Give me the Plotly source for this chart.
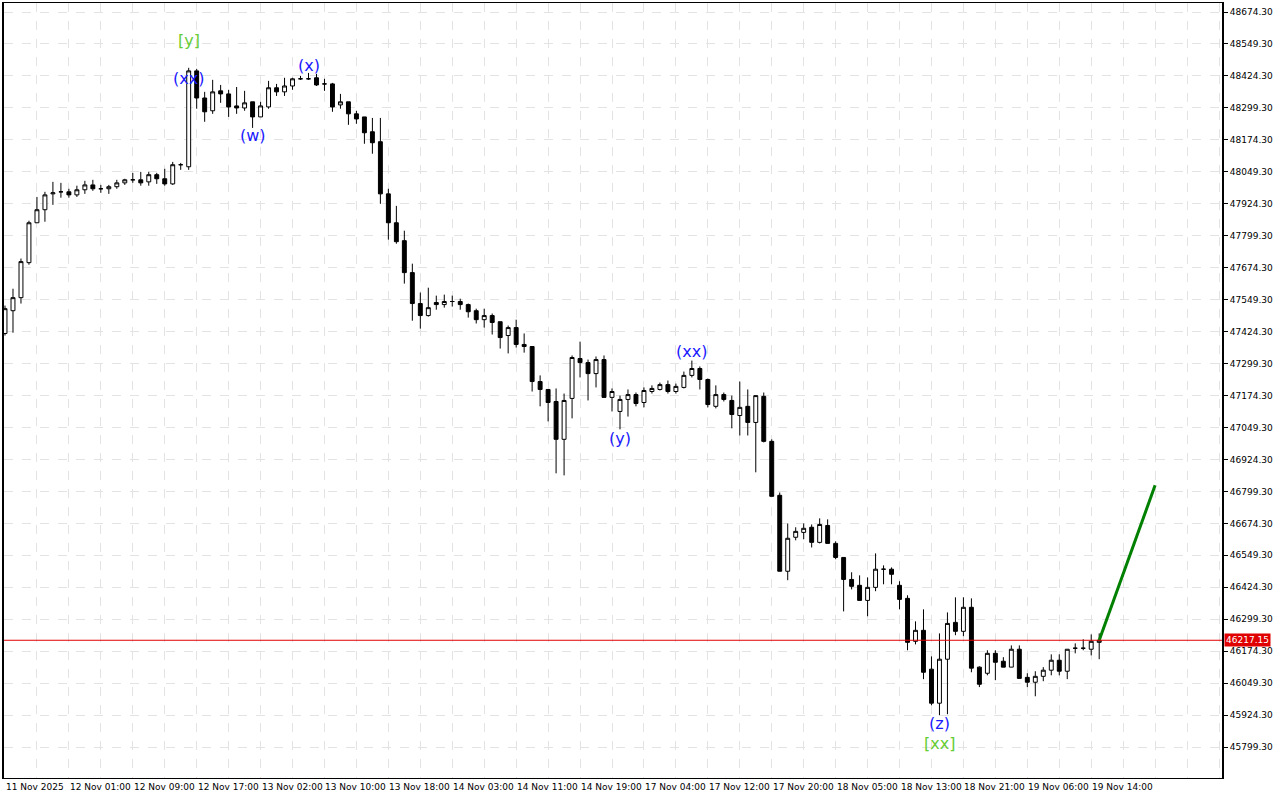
import plotly.graph_objects as go

opens = [47417,47506,47557,47694,47850,47901,47963,47971,47971,47959,47979,47998,47983,47983,47991,48006,48018,48018,48010,48038,
48022,48002,48077,48069,48444,48338,48288,48366,48354,48307,48299,48323,48264,48303,48378,48362,48385,48413,48413,48417,
48393,48393,48311,48323,48276,48264,48206,48167,47963,47850,47780,47655,47534,47487,47538,47530,47542,47542,47530,47506,
47471,47487,47463,47409,47440,47374,47366,47229,47198,47151,47003,47163,47319,47303,47260,47315,47167,47112,47159,47178,
47147,47190,47198,47217,47190,47206,47253,47280,47237,47132,47178,47155,47096,47132,47069,47171,46995,46784,46487,46620,
46639,46659,46600,46666,46596,46541,46455,46432,46373,46424,46495,46495,46432,46381,46213,46256,46104,45971,46143,46287,
46252,46346,46112,46088,46166,46135,46112,46182,46072,46053,46076,46100,46139,46096,46186,46186,46182,46209]
highs = [47526,47592,47710,47858,47951,47971,48010,48006,47983,47995,48014,48018,47998,47998,48018,48022,48045,48049,48049,48045,
48061,48088,48084,48456,48452,48362,48409,48389,48370,48381,48366,48323,48323,48405,48393,48417,48417,48424,48436,48432,
48413,48397,48354,48323,48288,48264,48260,48260,47983,47916,47819,47690,47577,47596,47565,47569,47565,47553,47534,47514,
47514,47495,47463,47448,47471,47417,47366,47253,47198,47202,47182,47331,47385,47315,47327,47331,47202,47174,47198,47186,
47206,47214,47225,47233,47221,47268,47311,47288,47241,47214,47186,47174,47229,47198,47174,47186,47003,46795,46674,46659,
46674,46670,46694,46690,46604,46541,46483,46471,46463,46557,46510,46502,46448,46393,46291,46338,46154,46244,46326,46385,
46385,46381,46115,46178,46178,46151,46197,46197,46088,46096,46112,46162,46162,46182,46205,46221,46240,46244]
lows = [47409,47420,47534,47686,47850,47854,47920,47948,47948,47951,47963,47975,47967,47963,47983,47998,48006,47995,47995,48002,
47995,47998,48057,48057,48296,48245,48276,48319,48264,48276,48288,48221,48264,48296,48346,48346,48370,48409,48409,48385,
48366,48284,48296,48233,48237,48159,48120,47924,47784,47768,47612,47467,47436,47483,47510,47518,47522,47510,47479,47456,
47440,47413,47358,47339,47362,47342,47190,47132,47073,46870,46862,47085,47245,47155,47206,47167,47112,47042,47092,47132,
47128,47182,47194,47182,47182,47202,47245,47198,47128,47124,47151,47046,47018,47018,46874,46991,46780,46487,46452,46608,
46612,46580,46596,46596,46534,46330,46416,46373,46311,46409,46436,46436,46338,46178,46201,46065,45963,45924,45928,46237,
46233,46092,46034,46080,46061,46112,46112,46068,46034,45998,46057,46080,46080,46065,46166,46178,46158,46143]
closes = [47514,47557,47698,47850,47901,47959,47967,47971,47959,47979,47998,47983,47983,47991,48006,48018,48018,48006,48038,48022,
48002,48077,48077,48444,48338,48284,48362,48354,48303,48299,48319,48264,48307,48378,48362,48385,48413,48413,48413,48389,
48393,48303,48323,48276,48256,48202,48163,47963,47850,47776,47655,47534,47487,47518,47530,47542,47542,47530,47502,47471,
47487,47460,47401,47440,47374,47366,47229,47198,47147,47003,47155,47323,47303,47260,47315,47167,47190,47159,47178,47143,
47194,47202,47217,47190,47210,47253,47280,47237,47139,47178,47159,47100,47128,47069,47174,46995,46780,46487,46616,46643,
46655,46600,46670,46596,46541,46455,46428,46373,46424,46495,46495,46475,46377,46209,46256,46092,45971,46143,46283,46252,
46346,46108,46045,46166,46131,46112,46182,46068,46053,46076,46100,46139,46096,46182,46186,46186,46213,46217.15]

tick_pos = [0,8,16,24,32,40,48,56,64,72,80,88,96,104,112,120,128,136]
tick_labels = ["11 Nov 2025","12 Nov 01:00","12 Nov 09:00","12 Nov 17:00","13 Nov 02:00","13 Nov 10:00",
               "13 Nov 18:00","14 Nov 03:00","14 Nov 11:00","14 Nov 19:00","17 Nov 04:00","17 Nov 12:00",
               "17 Nov 20:00","18 Nov 05:00","18 Nov 13:00","18 Nov 21:00","19 Nov 06:00","19 Nov 14:00"]
y_ticks = [45799.30 + 125*k for k in range(24)]

current_price = 46217.15
forecast_x = [137, 144]
forecast_y = [46217.15, 46823]

wave_x = [23, 23, 31, 38, 86, 77, 117, 117]
wave_y = [48561, 48416, 48190, 48467, 47346, 47006, 45893, 45815]
wave_text = ["[y]", "(xx)", "(w)", "(x)", "(xx)", "(y)", "(z)", "[xx]"]
wave_color = ["#66cc33", "#1a1aff", "#1a1aff", "#1a1aff", "#1a1aff", "#1a1aff", "#1a1aff", "#66cc33"]

idx = list(range(len(opens)))

fig = go.Figure()
fig.add_trace(go.Candlestick(
    x=idx, open=opens, high=highs, low=lows, close=closes,
    increasing=dict(fillcolor="white", line=dict(color="black", width=1)),
    decreasing=dict(fillcolor="black", line=dict(color="black", width=1)),
    whiskerwidth=0, showlegend=False, hoverinfo="skip"))
fig.add_trace(go.Scatter(x=forecast_x, y=forecast_y, mode="lines",
                         line=dict(color="#008000", width=3), showlegend=False))

fig.add_hline(y=current_price, line=dict(color="#e00000", width=1))

for x, y, t, c in zip(wave_x, wave_y, wave_text, wave_color):
    fig.add_annotation(x=x, y=y, text=t, showarrow=False,
                       font=dict(family="DejaVu Sans", size=16, color=c))

for x, t in zip(tick_pos, tick_labels):
    fig.add_annotation(x=x, y=0, yref="paper", text=t, showarrow=False, xanchor="left",
                       yanchor="top", yshift=-2, xshift=-1,
                       font=dict(family="DejaVu Sans", size=9, color="black"))

fig.add_annotation(x=1, xref="paper", y=current_price, text=f"{current_price:.2f}", showarrow=False,
                   xanchor="left", xshift=2, bgcolor="#e00000", borderpad=1,
                   font=dict(family="DejaVu Sans", size=9, color="white"))

fig.update_layout(
    width=1280, height=800, margin=dict(l=2, r=58, t=2, b=22),
    plot_bgcolor="white", paper_bgcolor="white",
    xaxis=dict(range=[-0.125, 152.375], rangeslider=dict(visible=False), tick0=0, dtick=4,
               showticklabels=False, showgrid=True, gridcolor="#e3e3e3", griddash="dash",
               zeroline=False, showline=True, linecolor="black", linewidth=1, mirror=True),
    yaxis=dict(range=[45678.4, 48709.5], side="right", tickmode="array", tickvals=y_ticks,
               ticktext=[f"{v:.2f}" for v in y_ticks], ticks="outside", ticklen=4, tickcolor="black",
               tickfont=dict(family="DejaVu Sans", size=9, color="black"),
               showgrid=True, gridcolor="#e3e3e3", griddash="dash", zeroline=False,
               showline=True, linecolor="black", linewidth=2, mirror=True),
)
fig.write_html("out.html", config={"displayModeBar": False},
               post_script="document.body.style.margin='0';document.body.style.overflow='hidden';")
